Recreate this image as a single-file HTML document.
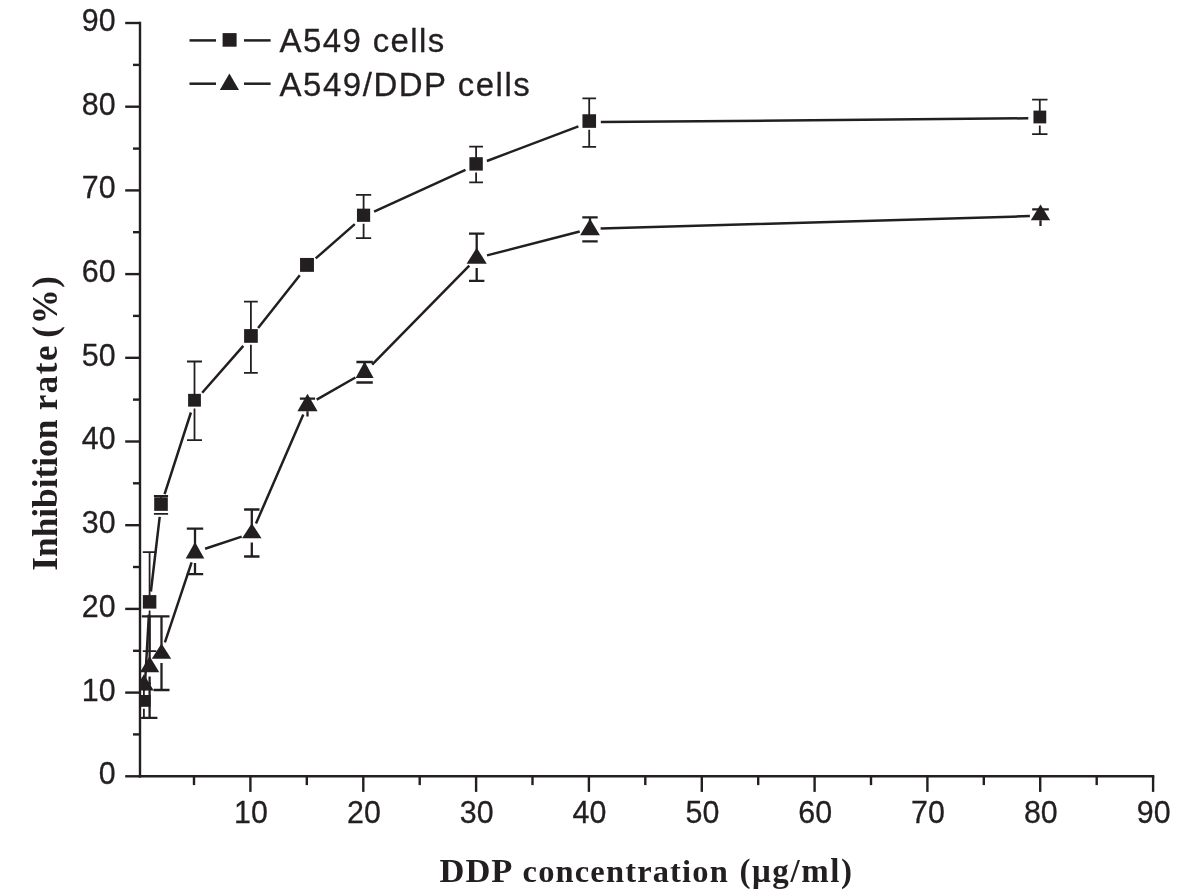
<!DOCTYPE html>
<html lang="en"><head><meta charset="utf-8"><title>Inhibition rate vs DDP concentration</title>
<style>html,body{margin:0;padding:0;background:#fff;}body{width:1181px;height:896px;overflow:hidden;}svg{display:block;filter:blur(0.45px);}text{fill:#231f20;}.tk,.lg{stroke:#231f20;stroke-width:0.3px;}.tk{font-family:"Liberation Sans",Arial,sans-serif;font-size:32.00px;}.lg{font-family:"Liberation Sans",Arial,sans-serif;font-size:34.00px;}.al{font-family:"Liberation Serif","Times New Roman",serif;font-weight:bold;}</style></head><body>
<svg width="1181" height="896" viewBox="0 0 1181 896">
<rect width="1181" height="896" fill="#fff"/>
<g stroke="#231f20" stroke-width="2.4" fill="none" stroke-linecap="butt">
<line x1="140.0" y1="21.8" x2="140.0" y2="777.5"/>
<line x1="138.8" y1="776.3" x2="1154.3" y2="776.3"/>
<line x1="125.2" y1="776.3" x2="140.0" y2="776.3"/>
<line x1="133.0" y1="734.4" x2="140.0" y2="734.4"/>
<line x1="125.2" y1="692.6" x2="140.0" y2="692.6"/>
<line x1="133.0" y1="650.8" x2="140.0" y2="650.8"/>
<line x1="125.2" y1="608.9" x2="140.0" y2="608.9"/>
<line x1="133.0" y1="567.0" x2="140.0" y2="567.0"/>
<line x1="125.2" y1="525.2" x2="140.0" y2="525.2"/>
<line x1="133.0" y1="483.3" x2="140.0" y2="483.3"/>
<line x1="125.2" y1="441.5" x2="140.0" y2="441.5"/>
<line x1="133.0" y1="399.6" x2="140.0" y2="399.6"/>
<line x1="125.2" y1="357.8" x2="140.0" y2="357.8"/>
<line x1="133.0" y1="315.9" x2="140.0" y2="315.9"/>
<line x1="125.2" y1="274.1" x2="140.0" y2="274.1"/>
<line x1="133.0" y1="232.2" x2="140.0" y2="232.2"/>
<line x1="125.2" y1="190.4" x2="140.0" y2="190.4"/>
<line x1="133.0" y1="148.6" x2="140.0" y2="148.6"/>
<line x1="125.2" y1="106.7" x2="140.0" y2="106.7"/>
<line x1="133.0" y1="64.9" x2="140.0" y2="64.9"/>
<line x1="125.2" y1="23.0" x2="140.0" y2="23.0"/>
<line x1="194.0" y1="776.3" x2="194.0" y2="785.1"/>
<line x1="250.4" y1="776.3" x2="250.4" y2="791.9"/>
<line x1="306.8" y1="776.3" x2="306.8" y2="785.1"/>
<line x1="363.3" y1="776.3" x2="363.3" y2="791.9"/>
<line x1="419.7" y1="776.3" x2="419.7" y2="785.1"/>
<line x1="476.1" y1="776.3" x2="476.1" y2="791.9"/>
<line x1="532.5" y1="776.3" x2="532.5" y2="785.1"/>
<line x1="588.9" y1="776.3" x2="588.9" y2="791.9"/>
<line x1="645.3" y1="776.3" x2="645.3" y2="785.1"/>
<line x1="701.8" y1="776.3" x2="701.8" y2="791.9"/>
<line x1="758.2" y1="776.3" x2="758.2" y2="785.1"/>
<line x1="814.6" y1="776.3" x2="814.6" y2="791.9"/>
<line x1="871.0" y1="776.3" x2="871.0" y2="785.1"/>
<line x1="927.4" y1="776.3" x2="927.4" y2="791.9"/>
<line x1="983.8" y1="776.3" x2="983.8" y2="785.1"/>
<line x1="1040.2" y1="776.3" x2="1040.2" y2="791.9"/>
<line x1="1096.7" y1="776.3" x2="1096.7" y2="785.1"/>
<line x1="1153.1" y1="776.3" x2="1153.1" y2="791.9"/>
</g>
<g class="tk" text-anchor="end">
<text transform="translate(115.6 784.2) scale(0.950 1)">0</text>
<text transform="translate(115.6 700.5) scale(0.950 1)">10</text>
<text transform="translate(115.6 616.8) scale(0.950 1)">20</text>
<text transform="translate(115.6 533.1) scale(0.950 1)">30</text>
<text transform="translate(115.6 449.4) scale(0.950 1)">40</text>
<text transform="translate(115.6 365.7) scale(0.950 1)">50</text>
<text transform="translate(115.6 282.0) scale(0.950 1)">60</text>
<text transform="translate(115.6 198.3) scale(0.950 1)">70</text>
<text transform="translate(115.6 114.6) scale(0.950 1)">80</text>
<text transform="translate(115.6 30.9) scale(0.950 1)">90</text>
</g>
<g class="tk" text-anchor="middle">
<text transform="translate(251.0 823.3) scale(0.950 1)">10</text>
<text transform="translate(363.9 823.3) scale(0.950 1)">20</text>
<text transform="translate(476.7 823.3) scale(0.950 1)">30</text>
<text transform="translate(589.5 823.3) scale(0.950 1)">40</text>
<text transform="translate(702.4 823.3) scale(0.950 1)">50</text>
<text transform="translate(815.2 823.3) scale(0.950 1)">60</text>
<text transform="translate(928.0 823.3) scale(0.950 1)">70</text>
<text transform="translate(1040.8 823.3) scale(0.950 1)">80</text>
<text transform="translate(1153.7 823.3) scale(0.950 1)">90</text>
</g>
<text class="al" y="882.3" font-size="33"><tspan x="439.60" font-size="34.50" letter-spacing="0.900">DDP</tspan> <tspan x="522.60" font-size="32.50" letter-spacing="1.150">concentration</tspan> <tspan x="739.40" font-size="33.00" letter-spacing="1.600">(μg/ml)</tspan></text>
<text class="al" y="0" font-size="35" transform="translate(56.8 0) rotate(-90)"><tspan x="-570.70" font-size="35.50" letter-spacing="-0.089">Inhibition</tspan> <tspan x="-410.20" font-size="35.00" letter-spacing="1.467">rate</tspan> <tspan x="-337.70" font-size="35.00" letter-spacing="1.700">(%)</tspan></text>
<defs><clipPath id="pc"><rect x="140.0" y="0" width="1100" height="776.3"/></clipPath></defs>
<g clip-path="url(#pc)">
<path d="M144.6 690.5 L148.9 614.6 M150.9 591.5 L159.7 516.8 M164.6 494.2 L190.9 412.5 M202.2 392.7 L243.3 345.9 M258.1 328.0 L299.8 275.2 M315.7 258.4 L354.8 224.1 M374.1 211.6 L465.5 169.9 M486.9 161.0 L578.4 126.4 M600.8 122.1 L1028.3 118.3" stroke="#231f20" stroke-width="2.50" fill="none"/>
<path d="M143.9 683.3 V700.9 M143.9 708.8 V717.9 M136.9 683.3 H150.9 M136.9 717.9 H150.9 M149.6 552.1 V601.9 M149.6 610.6 V651.2 M142.8 552.1 H156.4 M142.8 651.2 H156.4 M161.0 496.0 V504.1 M161.0 512.9 V513.9 M153.9 496.0 H168.1 M153.9 513.9 H168.1 M194.5 361.5 V400.2 M194.5 408.6 V440.2 M187.0 361.5 H202.0 M187.0 440.2 H202.0 M250.9 301.6 V335.9 M250.9 344.8 V372.9 M244.0 301.6 H257.8 M244.0 372.9 H257.8 M363.6 194.8 V215.2 M363.6 223.8 V238.2 M355.9 194.8 H371.2 M355.9 238.2 H371.2 M476.1 146.7 V163.9 M476.1 172.6 V182.4 M469.2 146.7 H483.0 M469.2 182.4 H483.0 M589.2 98.4 V121.0 M589.2 129.8 V146.9 M582.4 98.4 H596.1 M582.4 146.9 H596.1 M1039.8 99.7 V117.0 M1039.8 125.4 V134.1 M1032.1 99.7 H1047.5 M1032.1 134.1 H1047.5" stroke="#231f20" stroke-width="1.80" fill="none"/>
<rect x="137.15" y="695.00" width="13.50" height="11.80" fill="#231f20"/>
<rect x="142.85" y="595.10" width="13.50" height="13.50" fill="#231f20"/>
<rect x="154.20" y="497.25" width="13.60" height="13.60" fill="#231f20"/>
<rect x="188.10" y="393.85" width="12.80" height="12.80" fill="#231f20"/>
<rect x="244.10" y="329.10" width="13.70" height="13.70" fill="#231f20"/>
<rect x="300.05" y="257.95" width="13.90" height="13.90" fill="#231f20"/>
<rect x="356.95" y="208.65" width="13.20" height="13.20" fill="#231f20"/>
<rect x="469.40" y="157.20" width="13.40" height="13.40" fill="#231f20"/>
<rect x="582.45" y="114.25" width="13.60" height="13.60" fill="#231f20"/>
<rect x="1033.45" y="110.60" width="12.80" height="12.80" fill="#231f20"/>
<path d="M164.9 642.3 L191.6 562.3 M205.1 548.8 L241.7 536.6 M256.0 523.5 L303.3 414.5 M316.7 399.6 L355.4 377.5 M372.1 364.7 L469.3 265.7 M487.0 255.4 L579.7 231.5 M600.6 228.5 L1029.9 216.1" stroke="#231f20" stroke-width="2.50" fill="none"/>
<path d="M149.6 616.4 V670.3 M141.8 616.4 H157.4 M149.6 676.6 V717.9 M141.8 717.9 H157.4 M161.5 616.4 V656.8 M153.5 616.4 H169.5 M161.5 663.0 V690.0 M153.5 690.0 H169.5 M195.0 528.6 V556.6 M186.8 528.6 H203.2 M195.0 562.9 V574.2 M186.8 574.2 H203.2 M251.8 509.5 V536.2 M244.1 509.5 H259.5 M251.8 542.5 V556.5 M244.1 556.5 H259.5 M307.5 398.6 V409.2 M299.9 398.6 H315.1 M307.5 411.2 V416.5 M364.6 362.0 V375.9 M356.4 362.0 H372.8 M356.4 382.5 H372.8 M476.7 233.7 V261.8 M469.0 233.7 H484.4 M476.7 268.1 V280.8 M469.0 280.8 H484.4 M590.0 217.4 V233.2 M582.3 217.4 H597.7 M582.3 241.3 H597.7 M1040.5 209.4 V218.2 M1032.2 209.4 H1048.8 M1040.5 220.2 V225.9" stroke="#231f20" stroke-width="2.30" fill="none"/>
<polygon points="143.9,674.3 134.1,690.4 153.7,690.4" fill="#231f20"/>
<polygon points="149.6,656.3 139.9,672.3 159.3,672.3" fill="#231f20"/>
<polygon points="161.5,643.5 151.8,658.8 171.2,658.8" fill="#231f20"/>
<polygon points="195.0,542.0 185.7,558.6 204.3,558.6" fill="#231f20"/>
<polygon points="251.8,523.3 242.1,538.2 261.5,538.2" fill="#231f20"/>
<polygon points="307.5,393.8 297.4,411.2 317.6,411.2" fill="#231f20"/>
<polygon points="364.6,361.5 355.6,377.9 373.6,377.9" fill="#231f20"/>
<polygon points="476.7,247.7 466.6,263.8 486.8,263.8" fill="#231f20"/>
<polygon points="590.0,218.7 580.1,235.2 599.9,235.2" fill="#231f20"/>
<polygon points="1040.5,204.4 1030.8,220.2 1050.2,220.2" fill="#231f20"/>
</g>
<g stroke="#231f20" stroke-width="2.50">
<line x1="189.5" y1="40.4" x2="216.0" y2="40.4"/><line x1="244.0" y1="40.4" x2="270.6" y2="40.4"/>
<line x1="189.5" y1="83.7" x2="216.0" y2="83.7"/><line x1="244.0" y1="83.7" x2="270.6" y2="83.7"/>
</g>
<rect x="222.6" y="33.1" width="14.0" height="13.6" fill="#231f20"/>
<polygon points="229.4,73.6 219.8,90.0 239.0,90.0" fill="#231f20"/>
<g class="lg">
<text transform="translate(279.60 51.8) scale(0.970 1)" letter-spacing="1.433">A549 cells</text>
<text transform="translate(279.60 96.3) scale(0.970 1)" letter-spacing="1.577">A549/DDP cells</text>
</g>
</svg></body></html>
